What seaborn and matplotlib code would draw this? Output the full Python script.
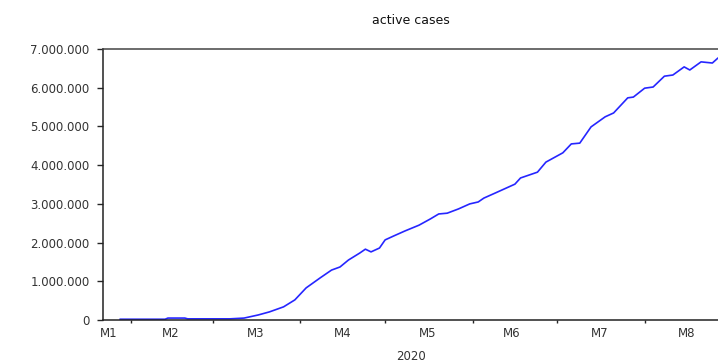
import numpy as np
import pandas as pd
import matplotlib
matplotlib.use("Agg")
import matplotlib.pyplot as plt
import matplotlib.ticker as mticker
import seaborn as sns

# values (millions of active cases)
dates = [
    "2020-01-28", "2020-02-13", "2020-02-14", "2020-02-20", "2020-02-21",
    "2020-03-07", "2020-03-12", "2020-03-17", "2020-03-21", "2020-03-26",
    "2020-03-30", "2020-04-03", "2020-04-08", "2020-04-12", "2020-04-15",
    "2020-04-18", "2020-04-22", "2020-04-24", "2020-04-26", "2020-04-29",
    "2020-05-01", "2020-05-04", "2020-05-08", "2020-05-13", "2020-05-17",
    "2020-05-20", "2020-05-23", "2020-05-27", "2020-05-31", "2020-06-03",
    "2020-06-05", "2020-06-09", "2020-06-16", "2020-06-18", "2020-06-24",
    "2020-06-27", "2020-07-03", "2020-07-06", "2020-07-09", "2020-07-13",
    "2020-07-18", "2020-07-21", "2020-07-26", "2020-07-28", "2020-08-01",
    "2020-08-04", "2020-08-08", "2020-08-11", "2020-08-15", "2020-08-17",
    "2020-08-21", "2020-08-25", "2020-08-27",
]
active_m = [
    0.02, 0.02, 0.05, 0.05, 0.03,
    0.03, 0.05, 0.13, 0.21, 0.34,
    0.52, 0.83, 1.09, 1.29, 1.37,
    1.55, 1.73, 1.83, 1.76, 1.86,
    2.07, 2.17, 2.30, 2.45, 2.61,
    2.74, 2.76, 2.87, 3.00, 3.05,
    3.15, 3.28, 3.51, 3.67, 3.82,
    4.08, 4.32, 4.55, 4.57, 4.99,
    5.25, 5.35, 5.74, 5.76, 5.99,
    6.02, 6.30, 6.33, 6.54, 6.46,
    6.67, 6.64, 6.77,
]
month_starts = ["2020-02-01", "2020-03-01", "2020-04-01", "2020-05-01",
                "2020-06-01", "2020-07-01", "2020-08-01"]
month_label_pos = ["2020-01-24", "2020-02-15", "2020-03-16", "2020-04-16",
                   "2020-05-16", "2020-06-15", "2020-07-16", "2020-08-16"]
month_labels = ["M1", "M2", "M3", "M4", "M5", "M6", "M7", "M8"]
y_ticks = [0, 1e6, 2e6, 3e6, 4e6, 5e6, 6e6, 7e6]

df = pd.DataFrame({"date": pd.to_datetime(dates),
                   "active": np.array(active_m) * 1e6})

sns.set_style("white")
plt.rcParams["font.family"] = ["DejaVu Sans"]

fig = plt.figure(figsize=(7.18, 3.62), dpi=100)
ax = fig.add_axes([0.1435, 0.116, 0.8565, 0.7484])

sns.lineplot(data=df, x="date", y="active", ax=ax, color="#2626ff", linewidth=1.2)

ax.set_xlim(pd.Timestamp("2020-01-22"), pd.Timestamp("2020-08-27"))
ax.set_ylim(0, 7e6)

ax.set_yticks(y_ticks)
ax.yaxis.set_major_formatter(mticker.FuncFormatter(lambda v, p: f"{v:,.0f}".replace(",", ".")))

ax.set_xticks(pd.to_datetime(month_starts))
ax.set_xticklabels([])
ax.set_xticks(pd.to_datetime(month_label_pos), minor=True)
ax.set_xticklabels(month_labels, minor=True)

ax.tick_params(axis="y", which="major", direction="out", length=4.3, width=1,
               pad=5.5, labelsize=8.5, labelcolor="#333333", left=True)
ax.tick_params(axis="x", which="major", direction="out", length=2.5, width=1, bottom=True)
ax.tick_params(axis="x", which="minor", length=0, pad=5, labelsize=8.5,
               labelcolor="#333333")

for side in ["left", "bottom", "top"]:
    ax.spines[side].set_color("#222222")
    ax.spines[side].set_linewidth(1.1)
ax.spines["top"].set_color("#444444")
ax.spines["right"].set_visible(False)

ax.set_xlabel("2020", fontsize=8.5, color="#333333", labelpad=7)
ax.set_ylabel("")
ax.set_title("active cases", fontsize=9, color="#111111", pad=18)

fig.savefig("out.png", dpi=100)
